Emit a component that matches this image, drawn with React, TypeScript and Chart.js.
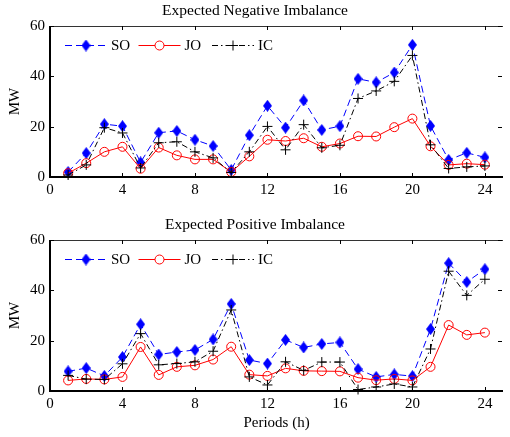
import React, { useEffect, useRef } from "react";
import { Chart, registerables } from "chart.js";

Chart.register(...registerables);

const periods = [1, 2, 3, 4, 5, 6, 7, 8, 9, 10, 11, 12, 13, 14, 15, 16, 17, 18, 19, 20, 21, 22, 23, 24];
const xTicks = [0, 4, 8, 12, 16, 20, 24];
const yTicks = [0, 20, 40, 60];

const negSO = [2, 9.5, 21, 20.2, 5.8, 17.6, 18.3, 14.8, 12.3, 2.8, 16.6, 28.3, 19.6, 30.4, 18.7, 20.2, 39, 37.6, 41.5, 52.5, 20.3, 6.8, 9.6, 7.8];
const negJO = [1.5, 5.5, 10, 12, 3.3, 11.7, 8.6, 7, 7, 2, 8.2, 14.8, 14.3, 15.4, 12, 13.3, 16.2, 16.1, 19.8, 23.2, 12.2, 4.8, 5.3, 4.9];
const negIC = [0.8, 4.8, 19.6, 17.5, 3.6, 13.6, 14, 10, 7.6, 1.8, 10, 20.1, 10.8, 20.8, 11.6, 12.6, 31.2, 34.2, 38, 48.3, 12.8, 3.4, 4, 4.4];

const posSO = [7.8, 9.1, 6, 13.5, 26.5, 14.5, 15.5, 16.3, 20.5, 34.6, 12.3, 10.9, 20.3, 17.3, 18.7, 19.3, 8.7, 5.6, 6.6, 5.9, 24.6, 50.8, 43.3, 48.4];
const posJO = [4.2, 4.8, 4.6, 5.6, 17.5, 6.4, 9.6, 10.2, 12.5, 17.6, 6.5, 6, 9, 8, 7.9, 7.8, 5.3, 4.3, 4.8, 4.2, 9.6, 26.2, 22.3, 23.2];
const posIC = [6.2, 4.7, 4.6, 10.8, 22.8, 10.4, 10.9, 11.6, 15.8, 32.2, 5.6, 2.4, 11.6, 8.2, 11.5, 11.5, 0.6, 1.6, 2.8, 1.6, 16.7, 47.6, 38, 44.4];

const seriesLabels = ["SO", "JO", "IC"];
const FONT = "'Liberation Serif', 'Times New Roman', Times, serif";

function makeDiamond(): HTMLCanvasElement {
  const c = document.createElement("canvas");
  c.width = 9;
  c.height = 12;
  const ctx = c.getContext("2d")!;
  ctx.fillStyle = "#0000ff";
  ctx.beginPath();
  ctx.moveTo(4.5, 0);
  ctx.lineTo(9, 6);
  ctx.lineTo(4.5, 12);
  ctx.lineTo(0, 6);
  ctx.closePath();
  ctx.fill();
  return c;
}

const boxPlugin = {
  id: "boxPlugin",
  afterDraw(chart: any) {
    const { ctx, chartArea } = chart;
    const { left, right, top, bottom } = chartArea;
    const xs = chart.scales.x;
    const ys = chart.scales.y;
    ctx.save();
    ctx.lineWidth = 1;
    ctx.strokeStyle = "#333";
    ctx.beginPath();
    ctx.moveTo(left, top + 0.5);
    ctx.lineTo(right, top + 0.5);
    ctx.stroke();
    ctx.strokeStyle = "#000";
    ctx.lineWidth = 2;
    ctx.beginPath();
    ctx.moveTo(left, top);
    ctx.lineTo(left, bottom);
    ctx.lineTo(right, bottom);
    ctx.stroke();
    ctx.lineWidth = 1;
    ctx.beginPath();
    xTicks.forEach((v) => {
      const px = Math.round(xs.getPixelForValue(v)) + 0.5;
      ctx.moveTo(px, bottom);
      ctx.lineTo(px, bottom - 4);
      ctx.moveTo(px, top);
      ctx.lineTo(px, top + 4);
    });
    yTicks.forEach((v) => {
      const py = Math.round(ys.getPixelForValue(v)) + 0.5;
      ctx.moveTo(left, py);
      ctx.lineTo(left + 4, py);
      ctx.moveTo(right - 1, py);
      ctx.lineTo(right - 5, py);
    });
    ctx.stroke();
    ctx.restore();
  },
};

const legendPlugin = {
  id: "innerLegend",
  afterDraw(chart: any) {
    const { ctx, chartArea } = chart;
    const y = chartArea.top + 19.5;
    ctx.save();
    chart.data.datasets.forEach((ds: any, i: number) => {
      const s = chartArea.left + 15 + i * 73.5;
      ctx.strokeStyle = ds.borderColor;
      ctx.lineWidth = 1;
      ctx.setLineDash(ds.borderDash || []);
      ctx.beginPath();
      ctx.moveTo(s, y);
      ctx.lineTo(s + 42, y);
      ctx.stroke();
      ctx.setLineDash([]);
      const cx = s + 21;
      const ps = ds.pointStyle;
      if (typeof ps !== "string") {
        ctx.drawImage(ps, cx - ps.width / 2, y - ps.height / 2);
      } else if (ps === "circle") {
        ctx.fillStyle = "#fff";
        ctx.beginPath();
        ctx.arc(cx, y, ds.pointRadius, 0, Math.PI * 2);
        ctx.fill();
        ctx.stroke();
      } else if (ps === "cross") {
        ctx.beginPath();
        ctx.moveTo(cx - ds.pointRadius, y);
        ctx.lineTo(cx + ds.pointRadius, y);
        ctx.moveTo(cx, y - ds.pointRadius);
        ctx.lineTo(cx, y + ds.pointRadius);
        ctx.stroke();
      }
      ctx.fillStyle = "#000";
      ctx.font = `15px ${FONT}`;
      ctx.textAlign = "left";
      ctx.textBaseline = "middle";
      ctx.fillText(ds.label, s + 46, y + 1);
    });
    ctx.restore();
  },
};

function toPoints(vals: number[]) {
  return periods.map((p, i) => ({ x: p, y: vals[i] }));
}

type PanelProps = {
  title: string;
  so: number[];
  jo: number[];
  ic: number[];
  height: number;
  xTitle?: string;
  top: number;
};

function Panel({ title, so, jo, ic, height, xTitle, top }: PanelProps) {
  const ref = useRef<HTMLCanvasElement | null>(null);
  useEffect(() => {
    if (!ref.current) return;
    const diamond = makeDiamond();
    const xAxisHeight = height - 177;
    const chart = new Chart(ref.current, {
      type: "line",
      data: {
        datasets: [
          {
            label: seriesLabels[0],
            data: toPoints(so),
            borderColor: "#0000ff",
            backgroundColor: "#0000ff",
            borderWidth: 1,
            borderDash: [7, 4],
            pointStyle: diamond as any,
            pointRadius: 6,
            order: 3,
            clip: false as any,
          },
          {
            label: seriesLabels[1],
            data: toPoints(jo),
            borderColor: "#ff0000",
            backgroundColor: "rgba(0,0,0,0)",
            borderWidth: 1,
            pointStyle: "circle",
            pointRadius: 4.5,
            pointBorderWidth: 1,
            pointBackgroundColor: "rgba(0,0,0,0)",
            order: 2,
            clip: false as any,
          },
          {
            label: seriesLabels[2],
            data: toPoints(ic),
            borderColor: "#000000",
            backgroundColor: "#000000",
            borderWidth: 1,
            borderDash: [6, 3, 1.5, 3],
            pointStyle: "cross",
            pointRadius: 5,
            pointBorderWidth: 1,
            order: 1,
            clip: false as any,
          },
        ] as any,
      },
      options: {
        animation: false,
        responsive: false,
        events: [],
        layout: { padding: { top: 0, right: 0, bottom: 0, left: 0 } },
        elements: { line: { tension: 0 } },
        plugins: {
          legend: { display: false },
          tooltip: { enabled: false },
          title: {
            display: true,
            text: title,
            color: "#000",
            font: { family: FONT, size: 15.5, weight: "normal" as any },
            padding: { top: 2, bottom: 5.4 },
          },
        },
        scales: {
          x: {
            type: "linear",
            min: 0,
            max: 25,
            grid: { display: false, drawTicks: false },
            border: { display: false },
            afterBuildTicks: (scale: any) => {
              scale.ticks = xTicks.map((v) => ({ value: v }));
            },
            afterFit: (scale: any) => {
              scale.height = xAxisHeight;
            },
            ticks: {
              color: "#000",
              font: { family: FONT, size: 15 },
              padding: 4,
              maxRotation: 0,
              autoSkip: false,
            },
            title: {
              display: !!xTitle,
              text: xTitle || "",
              color: "#000",
              font: { family: FONT, size: 15 },
              padding: { top: 0, bottom: 5.3 },
            },
          },
          y: {
            type: "linear",
            min: 0,
            max: 60,
            grid: { display: false, drawTicks: false },
            border: { display: false },
            afterBuildTicks: (scale: any) => {
              scale.ticks = yTicks.map((v) => ({ value: v }));
            },
            afterFit: (scale: any) => {
              scale.width = 50;
            },
            ticks: {
              color: "#000",
              font: { family: FONT, size: 15 },
              padding: 5,
              autoSkip: false,
            },
            title: {
              display: true,
              text: "MW",
              color: "#000",
              font: { family: FONT, size: 15 },
              padding: { top: 6, bottom: 0 },
            },
          },
        },
      },
      plugins: [boxPlugin, legendPlugin],
    } as any);
    return () => chart.destroy();
  }, [title, so, jo, ic, height, xTitle]);

  return (
    <canvas
      ref={ref}
      width={510}
      height={height}
      style={{ position: "absolute", left: 0, top, width: 510, height, display: "block" }}
    />
  );
}

export default function App() {
  return (
    <div style={{ position: "absolute", left: 0, top: 0, width: 510, height: 437, background: "#fff" }}>
      <Panel title="Expected Negative Imbalance" so={negSO} jo={negJO} ic={negIC} height={205} top={0} />
      <Panel
        title="Expected Positive Imbalance"
        so={posSO}
        jo={posJO}
        ic={posIC}
        height={223}
        top={214}
        xTitle="Periods (h)"
      />
    </div>
  );
}
